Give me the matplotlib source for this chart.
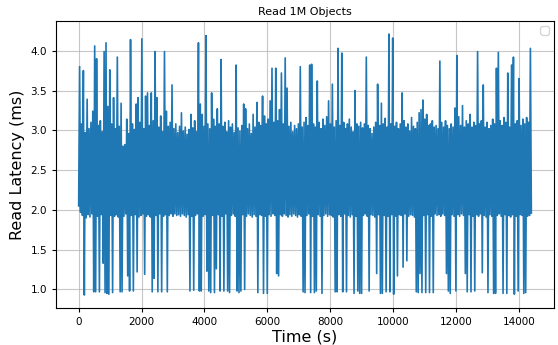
import numpy as np
import matplotlib
matplotlib.use("Agg")
import matplotlib.pyplot as plt

title = "Read 1M Objects"
x_label = "Time (s)"
y_label = "Read Latency (ms)"

# Read latency samples (ms): each pair is (band low, band high)
latency_ms = [
    2.05, 3.80, 1.97, 3.08, 1.93, 3.75, 0.93, 2.97, 1.90, 3.39, 1.94, 3.02, 1.91, 3.10, 1.95, 3.24, 0.97, 4.06, 0.97, 3.90,
    1.92, 3.06, 0.97, 3.12, 1.94, 2.98, 1.33, 3.99, 0.96, 4.10, 0.95, 3.30, 0.94, 3.76, 1.93, 3.08, 0.96, 3.41, 1.92, 3.02,
    1.94, 3.92, 1.91, 3.05, 0.97, 3.34, 0.97, 2.80, 1.92, 2.82, 1.95, 3.14, 1.17, 2.96, 0.98, 4.14, 1.93, 3.08, 0.98, 3.01,
    1.94, 3.33, 1.22, 3.41, 1.91, 3.10, 1.93, 4.15, 1.95, 3.02, 1.19, 3.43, 1.92, 3.47, 1.94, 3.06, 1.91, 3.47, 0.97, 3.12,
    1.14, 3.99, 1.93, 3.41, 0.97, 3.04, 1.95, 3.18, 0.97, 2.98, 1.92, 3.99, 1.94, 3.24, 0.97, 3.05, 1.93, 3.10, 1.95, 3.57,
    1.92, 3.02, 1.95, 3.08, 1.93, 2.97, 1.94, 3.05, 1.92, 3.22, 1.95, 2.99, 1.93, 3.04, 1.91, 2.95, 1.94, 3.01, 0.98, 3.20,
    1.92, 3.03, 0.99, 3.12, 1.93, 2.98, 1.95, 4.10, 0.98, 3.33, 0.98, 3.20, 1.92, 3.05, 1.94, 4.19, 1.23, 3.08, 0.98, 3.02,
    0.96, 3.47, 1.93, 3.14, 0.96, 3.05, 1.26, 3.27, 1.94, 3.08, 0.98, 3.89, 1.92, 3.05, 0.98, 3.10, 1.95, 2.98, 0.98, 3.12,
    0.96, 3.04, 1.93, 3.08, 1.95, 2.97, 1.92, 3.82, 0.98, 3.03, 0.96, 2.99, 0.98, 3.06, 1.94, 3.33, 1.00, 3.27, 1.92, 3.02,
    1.95, 3.08, 1.93, 2.96, 1.91, 3.20, 1.94, 3.04, 1.92, 3.35, 0.96, 3.10, 1.94, 3.06, 1.93, 3.43, 0.95, 3.18, 1.92, 3.08,
    0.95, 3.14, 1.94, 3.37, 1.92, 3.78, 1.95, 3.10, 1.93, 3.78, 1.20, 3.12, 1.17, 3.26, 1.94, 3.72, 1.92, 3.08, 1.95, 3.91,
    1.93, 3.53, 1.91, 3.05, 1.94, 3.10, 1.92, 2.98, 1.95, 3.06, 1.93, 3.02, 1.91, 3.08, 1.94, 3.80, 1.92, 3.04, 0.97, 3.10,
    0.96, 3.16, 1.93, 3.06, 1.95, 3.82, 0.96, 3.83, 1.92, 3.08, 0.96, 3.04, 0.98, 3.62, 1.94, 3.10, 1.92, 3.02, 0.95, 3.14,
    1.93, 3.06, 1.95, 3.17, 1.92, 3.37, 1.94, 3.08, 1.93, 3.58, 1.91, 3.04, 0.97, 3.12, 0.97, 4.03, 1.94, 3.06, 1.92, 3.97,
    0.97, 3.10, 1.95, 3.02, 0.97, 3.08, 1.93, 3.14, 1.91, 3.04, 1.94, 2.98, 0.95, 3.50, 1.92, 3.08, 0.98, 3.05, 0.95, 3.10,
    0.95, 3.03, 1.93, 3.08, 1.95, 3.92, 1.92, 3.06, 0.98, 3.02, 1.94, 2.96, 1.93, 3.04, 1.91, 3.10, 1.20, 3.58, 1.94, 3.06,
    0.95, 3.34, 0.95, 3.08, 1.93, 3.15, 0.97, 3.04, 1.92, 4.21, 0.97, 3.08, 1.94, 4.16, 0.94, 3.05, 1.92, 3.10, 1.17, 3.02,
    1.94, 3.08, 1.93, 3.47, 1.28, 3.12, 1.95, 3.04, 1.36, 3.08, 1.92, 2.99, 1.94, 3.16, 1.93, 3.05, 1.91, 3.02, 0.97, 3.10,
    0.96, 3.22, 1.20, 3.26, 0.96, 3.38, 1.93, 3.14, 0.96, 3.20, 1.94, 3.06, 0.96, 3.08, 1.92, 3.12, 0.96, 3.04, 1.95, 3.06,
    1.93, 3.02, 1.94, 3.87, 1.92, 3.10, 1.95, 3.04, 1.93, 3.12, 1.20, 3.06, 0.98, 3.02, 0.95, 3.08, 1.94, 3.04, 1.92, 3.28,
    0.98, 3.94, 1.94, 3.17, 1.92, 3.06, 1.95, 3.31, 1.93, 3.04, 1.20, 3.12, 0.97, 3.08, 1.94, 3.20, 0.97, 3.04, 1.92, 3.10,
    0.98, 3.06, 1.94, 3.99, 1.92, 3.08, 1.95, 3.12, 1.21, 3.57, 1.93, 3.04, 1.91, 3.10, 0.96, 3.02, 1.94, 3.06, 1.92, 3.14,
    0.95, 3.08, 0.95, 3.78, 1.93, 3.98, 1.95, 3.12, 1.92, 3.06, 0.95, 3.16, 1.94, 3.10, 0.95, 3.72, 1.93, 3.04, 1.91, 3.82,
    1.94, 3.92, 0.94, 3.08, 1.92, 3.12, 0.98, 3.65, 1.94, 3.06, 1.93, 3.14, 0.95, 3.08, 0.96, 3.16, 1.92, 3.10, 1.93, 4.03,
    1.96,
]
time_s = np.linspace(0, 14400, len(latency_ms))

fig = plt.figure(figsize=(5.58, 3.45), dpi=100)
ax = fig.add_axes([0.1004, 0.1072, 0.8924, 0.8319])
ax.plot(time_s, latency_ms, color="#1f77b4", linewidth=1.2)
ax.set_title(title, fontsize=8, pad=4)
ax.set_xlabel(x_label, fontsize=11.5, labelpad=2)
ax.set_ylabel(y_label, fontsize=11.5, labelpad=4)
ax.tick_params(labelsize=7.5, length=3)
ax.grid(True, color="#b0b0b0", linewidth=0.8, alpha=0.7)
ax.set_axisbelow(True)
ax.legend(handles=[], loc="upper right", fontsize=7.5)
fig.savefig("out.png", dpi=100)
